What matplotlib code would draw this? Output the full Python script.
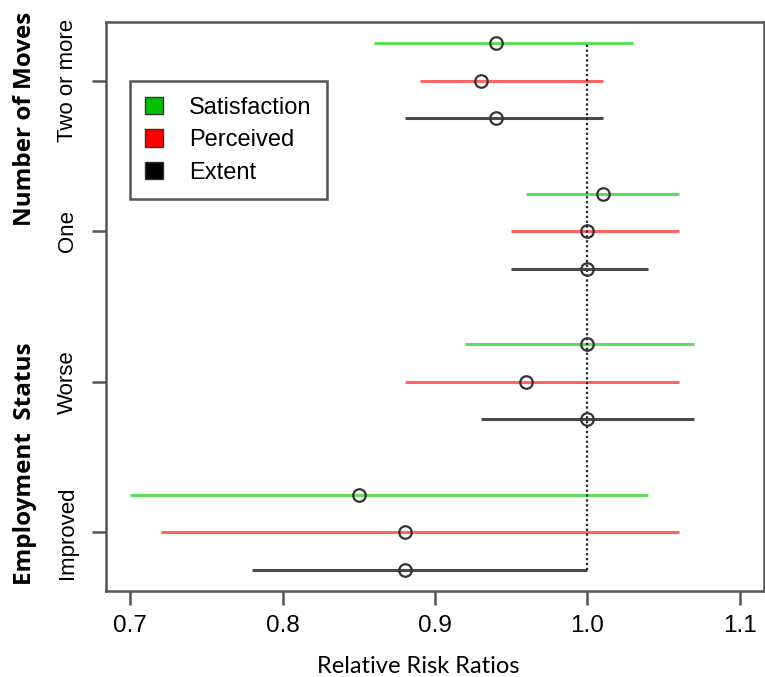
import numpy as np
import matplotlib
matplotlib.use("Agg")
from matplotlib import pyplot as plt
from matplotlib.patches import Patch

# rows from bottom to top
rows = ["Improved", "Worse", "One", "Two or more"]
series = ["Satisfaction", "Perceived", "Extent"]

sat_est = [0.85, 1.00, 1.01, 0.94]
sat_lo = [0.70, 0.92, 0.96, 0.86]
sat_hi = [1.04, 1.07, 1.06, 1.03]

per_est = [0.88, 0.96, 1.00, 0.93]
per_lo = [0.72, 0.88, 0.95, 0.89]
per_hi = [1.06, 1.06, 1.06, 1.01]

ext_est = [0.88, 1.00, 1.00, 0.94]
ext_lo = [0.78, 0.93, 0.95, 0.88]
ext_hi = [1.00, 1.07, 1.04, 1.01]

line_cols = ["#5ee05e", "#ff6464", "#4a4a4a"]
legend_cols = ["#00c000", "#ff0000", "#000000"]
offsets = [0.25, 0.0, -0.25]

fig = plt.figure(figsize=(7.65, 6.77), dpi=100)
ax = fig.add_axes([106 / 765, 1 - 591 / 677, 658 / 765, 569 / 677])

ypos = np.arange(1, len(rows) + 1)
data = [(sat_est, sat_lo, sat_hi), (per_est, per_lo, per_hi), (ext_est, ext_lo, ext_hi)]
for (est, lo, hi), col, off in zip(data, line_cols, offsets):
    y = ypos + off
    ax.hlines(y, lo, hi, colors=col, linewidth=2.2, zorder=2)
    ax.plot(est, y, "o", mfc="none", mec="#333333", mew=1.6, ms=9, zorder=4)

# reference line at 1
ax.vlines(1.0, ypos[0] - 0.25, ypos[-1] + 0.25, colors="#222222",
          linestyles=(0, (1.0, 1.2)), linewidth=1.6, zorder=3)

ax.set_xlim(0.684, 1.116)
ax.set_ylim(0.61, 4.39)
ax.set_xticks([0.7, 0.8, 0.9, 1.0, 1.1])
ax.set_xticklabels(["0.7", "0.8", "0.9", "1.0", "1.1"], family="Liberation Sans", fontsize=17.5)
ax.set_yticks(ypos)
ax.set_yticklabels(rows, rotation=90, va="center", family="Liberation Sans", fontsize=16)
ax.tick_params(axis="both", length=10, width=1.8, color="#555555")
ax.tick_params(axis="x", pad=7)
ax.tick_params(axis="y", pad=10)
for s in ax.spines.values():
    s.set_color("#555555")
    s.set_linewidth(1.8)

ax.set_xlabel("Relative Risk Ratios", family="Lato", fontsize=17)
ax.xaxis.set_label_coords(0.475, -0.115)

fig.text(25 / 765, 1 - 119 / 677, "Number of Moves", rotation=90, ha="center", va="center",
         fontsize=17.5, fontweight="bold", family="Open Sans")
fig.text(25 / 765, 1 - 464 / 677, "Employment  Status", rotation=90, ha="center", va="center",
         fontsize=17.5, fontweight="bold", family="Open Sans")

handles = [Patch(facecolor=c, edgecolor="#333333", linewidth=1.0) for c in legend_cols]
leg = ax.legend(handles, series, loc="upper left", bbox_to_anchor=(0.036, 0.896),
                borderaxespad=0, fancybox=False, framealpha=1, edgecolor="#555555",
                prop={"family": "Liberation Sans", "size": 17},
                handlelength=0.75, handleheight=0.75, handletextpad=1.1,
                labelspacing=0.45, borderpad=0.65)
leg.get_frame().set_linewidth(1.8)

fig.savefig("out.png", dpi=100)
